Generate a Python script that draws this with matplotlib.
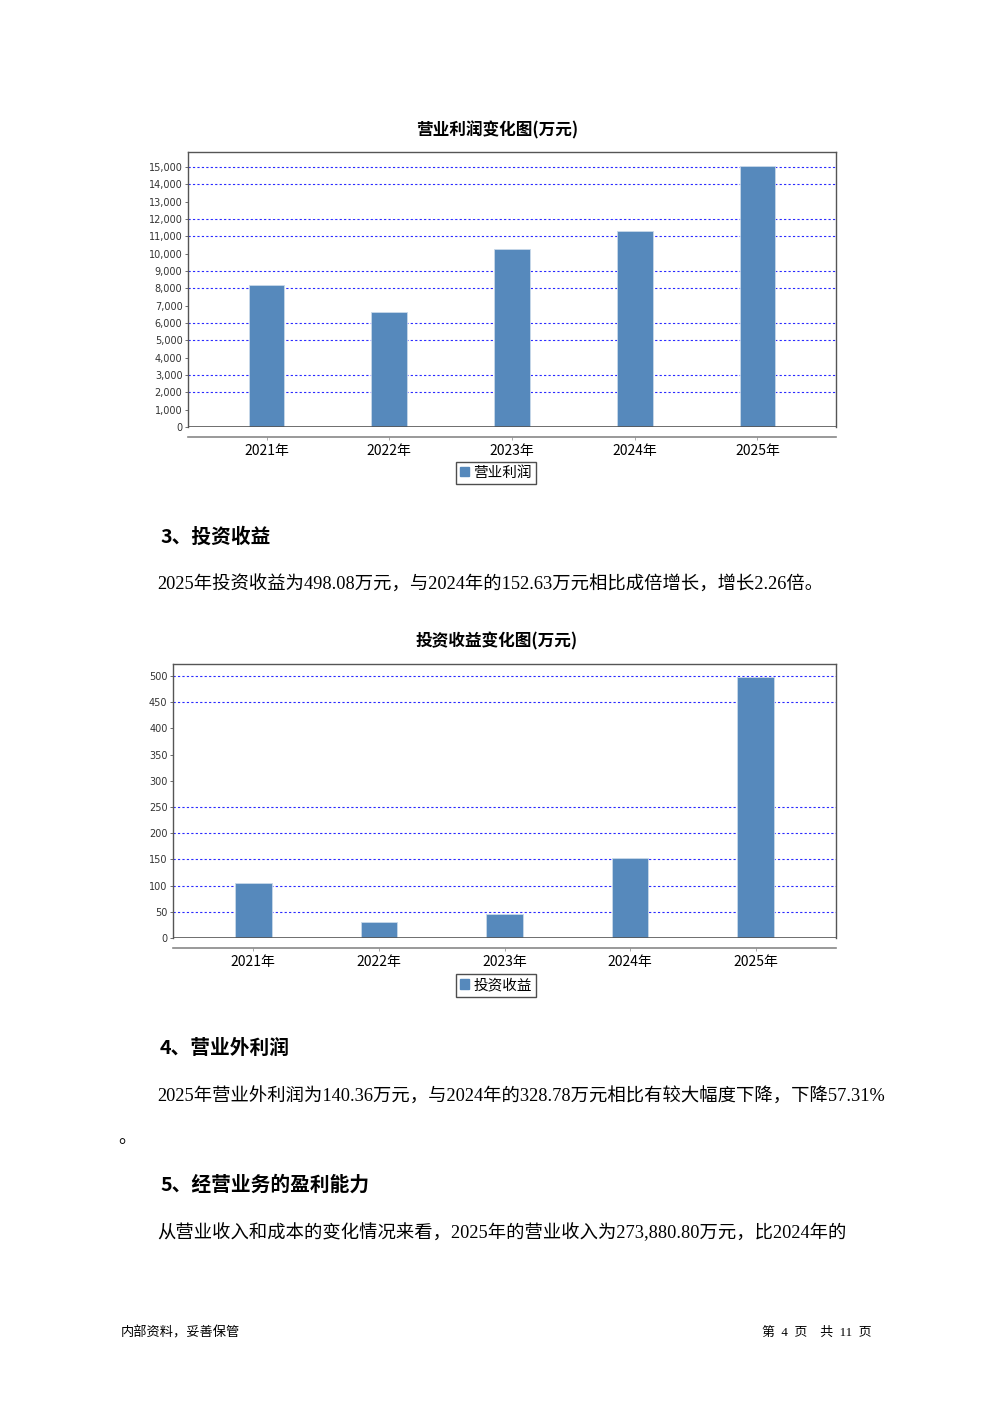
import matplotlib
matplotlib.use('Agg')
import matplotlib.pyplot as plt
import numpy as np

plt.rcParams['font.family'] = ['Noto Sans CJK SC', 'DejaVu Sans']

# data
years = ['2021年', '2022年', '2023年', '2024年', '2025年']
op_profit = [8200, 6640, 10270, 11310, 15060]
inv_income = [105, 31, 46, 152.63, 498.08]

profit_ticks = list(range(0, 15001, 1000))
profit_grid = [2000, 3000, 5000, 6000, 8000, 9000, 11000, 12000, 14000, 15000]
inv_ticks = list(range(0, 501, 50))
inv_grid = [50, 100, 150, 200, 250, 450, 500]

BAR = '#5689bc'
GRID = '#2a2aff'
FRAME = '#555555'
serif_cjk = ['Liberation Serif', 'Noto Sans CJK SC']


def drawChart(fig, rect, values, ticks, grid, ytop, legend_label, leg_pos, fmt):
    ax = fig.add_axes(rect)
    x = np.arange(len(years))
    ax.bar(x, values, width=0.29, color=BAR, edgecolor='#c9d9ea', linewidth=0.6, zorder=3)
    ax.hlines(grid, -0.64, len(years) - 0.36, colors=GRID, linestyles=(0, (2, 2)),
              linewidth=0.8, zorder=1)
    ax.axhline(0, color=FRAME, linewidth=1.2, zorder=4)
    ax.set_xlim(-0.64, len(years) - 0.36)
    ax.set_ylim(0, ytop)
    ax.set_yticks(ticks)
    ax.set_yticklabels([fmt(t) for t in ticks], fontsize=7, family=['DejaVu Sans'], color='#333333')
    ax.set_xticks(x)
    ax.set_xticklabels(years, fontsize=8.5, color='#333333')
    ax.tick_params(axis='y', length=2, width=0.6, color=FRAME, pad=2)
    ax.tick_params(axis='x', length=2, width=0.6, color='#999999', pad=3.5)
    for s in ['top', 'left', 'right']:
        ax.spines[s].set_color(FRAME)
        ax.spines[s].set_linewidth(1.0)
    ax.spines['bottom'].set_position(('outward', 7))
    ax.spines['bottom'].set_color('#888888')
    ax.spines['bottom'].set_linewidth(1.2)
    h = plt.Rectangle((0, 0), 1, 1, color=BAR)
    leg = ax.legend([h], [legend_label], loc='center', bbox_to_anchor=leg_pos,
                    frameon=True, fancybox=False, fontsize=10.5, handlelength=0.6,
                    handleheight=0.6, handletextpad=0.3, borderpad=0.3, borderaxespad=0)
    leg.get_frame().set_edgecolor('#222222')
    leg.get_frame().set_linewidth(1.0)
    return ax


fig = plt.figure(figsize=(9.92, 14.03), dpi=100)

drawChart(fig, [188 / 992, 1 - 427 / 1403, 648 / 992, 275 / 1403],
          op_profit, profit_ticks, profit_grid, 15870, '营业利润', (0.475, -0.167),
          lambda t: f'{t:,}')
drawChart(fig, [173 / 992, 1 - 938 / 1403, 663 / 992, 274 / 1403],
          inv_income, inv_ticks, inv_grid, 523, '投资收益', (0.487, -0.172),
          lambda t: f'{t}')


def txt(xp, yp, s, **kw):
    fig.text(xp / 992, 1 - yp / 1403, s, va='center', ha=kw.pop('ha', 'left'), **kw)


txt(497, 130, '营业利润变化图(万元)', fontsize=12, fontweight='bold', ha='center')
txt(497, 641, '投资收益变化图(万元)', fontsize=12, fontweight='bold', ha='center')

txt(160, 537, '3、投资收益', fontsize=14.2, fontweight='bold')
txt(157, 585, '2025年投资收益为498.08万元，与2024年的152.63万元相比成倍增长，增长2.26倍。',
    fontsize=13.2, family=serif_cjk)
txt(160, 1048, '4、营业外利润', fontsize=14.2, fontweight='bold')
txt(157, 1097, '2025年营业外利润为140.36万元，与2024年的328.78万元相比有较大幅度下降，下降57.31%',
    fontsize=13.2, family=serif_cjk)
txt(118, 1138, '。', fontsize=13.2)
txt(160, 1185, '5、经营业务的盈利能力', fontsize=14.2, fontweight='bold')
txt(157, 1233, '从营业收入和成本的变化情况来看，2025年的营业收入为273,880.80万元，比2024年的',
    fontsize=13.2, family=serif_cjk)

txt(121, 1333, '内部资料，妥善保管', fontsize=9.5)
txt(871, 1333, '第  4  页    共  11  页', fontsize=9.3, ha='right', family=serif_cjk)

fig.savefig('out.png', dpi=100)
